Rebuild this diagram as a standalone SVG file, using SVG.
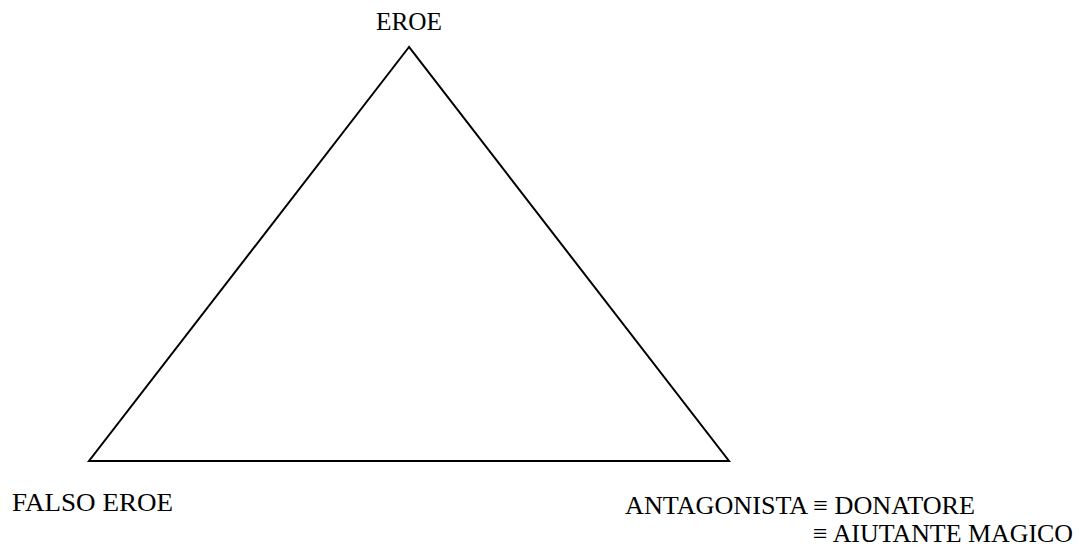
<svg xmlns="http://www.w3.org/2000/svg" width="1080" height="548" viewBox="0 0 1080 548">
<style>
text{font-family:"Liberation Serif","Times New Roman",serif;font-size:26px;fill:#000}
.edge{stroke:#000;stroke-width:2;fill:none;stroke-linejoin:miter}
</style>
<rect width="1080" height="548" fill="#fff"/>
<g id="connectors">
<polygon class="edge" points="409,47 89,461 729,461"/>
</g>
<g id="eroe"><text x="376" y="30" textLength="66" lengthAdjust="spacingAndGlyphs">EROE</text></g>
<g id="falso-eroe"><text x="12" y="511" textLength="161" lengthAdjust="spacingAndGlyphs">FALSO EROE</text></g>
<g id="antagonista">
<text x="625" y="514" textLength="350" lengthAdjust="spacingAndGlyphs">ANTAGONISTA ≡ DONATORE</text>
<text x="813" y="542" textLength="260" lengthAdjust="spacingAndGlyphs">≡ AIUTANTE MAGICO</text>
</g>
</svg>
